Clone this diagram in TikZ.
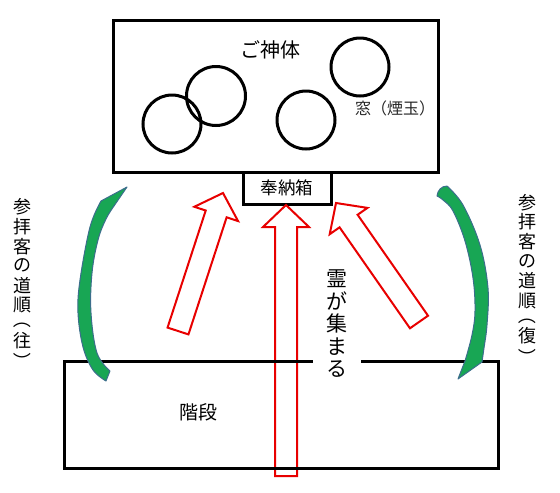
\documentclass[tikz,border=0pt]{standalone}
\usepackage{fontspec}
\newfontfamily\jp{Noto Sans CJK JP}
\usetikzlibrary{calc}
\definecolor{arrowgreen}{RGB}{24,166,84}
\definecolor{greenedge}{RGB}{60,110,140}
\definecolor{spiritred}{RGB}{232,0,0}
\tikzset{
  box/.style={draw=black, line width=3pt},
  window/.style={draw=black, line width=3pt},
  redarr/.style={draw=spiritred, line width=2pt, fill=white, line join=miter},
  greenarr/.style={fill=arrowgreen, draw=greenedge, line width=1pt, line join=round},
  lbl/.style={font=\jp\fontsize{#1}{#1}\selectfont, inner sep=0pt},
  vlbl/.style 2 args={font=\jp\fontsize{#1}{#2}\selectfont, inner sep=0pt, align=center},
  vch/.style={font=\jp\fontsize{18}{18}\selectfont, inner sep=0pt, anchor=center},
}
\newcommand\blockarrow[2]{%
  \coordinate (#1h) at ($(#1)!22pt!(#2)$);
  \draw[redarr] ($(#2)!11pt!90:(#1)$) -- ($(#1h)!11pt!90:(#1)$) -- ($(#1h)!23pt!90:(#1)$)
     -- (#1) -- ($(#1h)!23pt!-90:(#1)$) -- ($(#1h)!11pt!-90:(#1)$) -- ($(#2)!11pt!-90:(#1)$) -- cycle;
}
% vertical route label: #1 = prefix, #2 = x, #3 = top y, #4 = last word char
\newcommand\routelabel[4]{%
  \foreach \ch [count=\i from 0] in {参,拝,客,の,道,順}
    \node[vch] (#1\i) at (#2,#3+19.6*\i) {\ch};
  \node[vch, rotate=-90] (#1p) at (#2,#3+112.5) {（};
  \node[vch] (#1w) at (#2,#3+133.5) {#4};
  \node[vch, rotate=-90] (#1q) at (#2,#3+154.5) {）};
}
\begin{document}
\begin{tikzpicture}[x=1pt, y=-1pt]
\useasboundingbox (0,0) rectangle (560,493);

% shrine body
\draw[box] (113,20) rectangle (438,172);
\node[lbl=20] (shintai) at (270,50) {ご神体};
\draw[window] (172,124) circle (29);
\draw[window] (216,96) circle (29.5);
\draw[window] (306,120) circle (29);
\draw[window] (360,67) circle (29);
\node[lbl=16, text=black!85] (mado) at (395,108) {窓（煙玉）};

% offering box
\draw[box] (243,172) rectangle (331,204);
\node[lbl=17.5] (hono) at (287,188) {奉納箱};

% red block arrows
\coordinate (ct) at (286,205); \coordinate (cb) at (286,476);
\coordinate (lt) at (223,193); \coordinate (lb) at (178,331);
\coordinate (rt) at (336,203); \coordinate (rb) at (419,322);
\blockarrow{ct}{cb}
\blockarrow{lt}{lb}
\blockarrow{rt}{rb}

% stairs
\draw[box] (64,361) rectangle (498,468);
\node[lbl=19] (kaidan) at (198,412) {階段};
\node[vlbl={21}{22.5}, fill=white, minimum width=48pt, inner ysep=2pt] (rei) at (337,324)
  {霊\\が\\集\\ま\\る};

% green path arrows
\draw[greenarr] (127,187) -- (101,201)
  -- plot[smooth, tension=0.6] coordinates {(101,201) (90,227) (80,280) (78,313) (83,347) (93,370) (106,381)}
  -- (110,371)
  -- plot[smooth, tension=0.6] coordinates {(110,371) (97,353) (91,313) (92,273) (98,240) (106,219) (114,206)}
  -- cycle;
\draw[greenarr] (437,196) to[out=85,in=180] (447,186)
  -- plot[smooth, tension=0.6] coordinates {(447,186) (463,205) (480,245) (488,288) (487,325) (484,348) (482,362)}
  -- (458,379) -- (465,361)
  -- plot[smooth, tension=0.6] coordinates {(465,361) (472,335) (475,311) (473,278) (465,241) (453,211) (443,200) (437,196)}
  -- cycle;

% route labels
\routelabel{ou}{22}{207}{往}
\routelabel{fk}{527}{202.5}{復}
\end{tikzpicture}
\end{document}
